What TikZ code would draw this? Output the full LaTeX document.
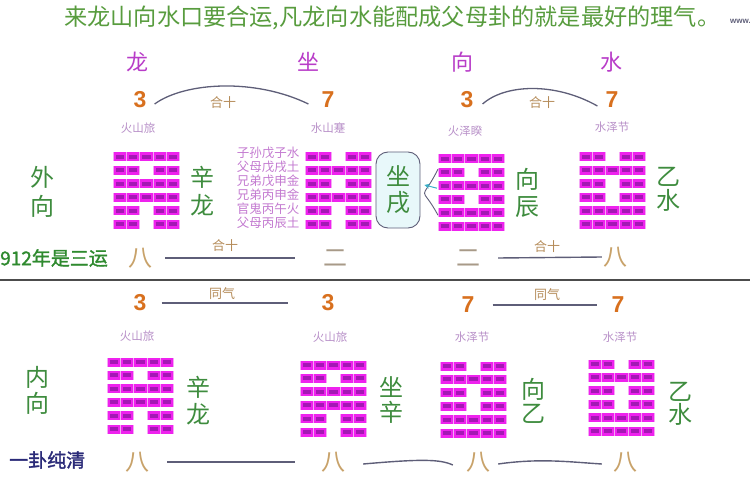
\documentclass[tikz,border=0pt]{standalone}
\usepackage{fontspec}
\setmainfont{Liberation Sans}
\newfontfamily\cjk{Noto Sans CJK SC}
\newfontfamily\cjkb[FakeBold=1.6]{Noto Sans CJK SC}
\usetikzlibrary{arrows.meta}
\definecolor{titlegreen}{HTML}{589C3E}
\definecolor{headmag}{HTML}{B83CC8}
\definecolor{numorange}{HTML}{D8701E}
\definecolor{tanlbl}{HTML}{B58C5A}
\definecolor{namepurple}{HTML}{B890C8}
\definecolor{biggreen}{HTML}{3E8C3E}
\definecolor{tanbig}{HTML}{C8A26A}
\definecolor{graytan}{HTML}{A89A88}
\definecolor{linegray}{HTML}{5E5E78}
\definecolor{hexmag}{HTML}{EE22EE}
\definecolor{hexpale}{HTML}{F4A8F4}
\definecolor{hexdark}{HTML}{A418B4}
\definecolor{yeargreen}{HTML}{2F8A2F}
\definecolor{navy}{HTML}{2A2A78}
\definecolor{bubblefill}{HTML}{E8F8FA}
\definecolor{arrowcyan}{HTML}{3AB0C8}
\newcommand\hexagram[4]{%
  \node[inner sep=0pt,minimum width=67pt,minimum height=76pt,anchor=north west] (#1) at (#2,#3-4) {};
  \foreach \t [count=\i from 0] in {#4} {
    \ifnum\t=1
      \fill[hexpale] ({#2},{#3+\i*13.4-4.5}) rectangle ++(67,9);
    \else
      \fill[hexpale] ({#2},{#3+\i*13.4-4.5}) rectangle ++(26.8,9);
      \fill[hexpale] ({#2+40.2},{#3+\i*13.4-4.5}) rectangle ++(26.8,9);
    \fi
    \foreach \s in {0,...,4} {
      \ifnum\t\s=02 \else
        \fill[hexmag] ({#2+\s*13.4+0.6},{#3+\i*13.4-4.5}) rectangle ++(12.2,9);
        \fill[hexdark] ({#2+\s*13.4+2.6},{#3+\i*13.4-2}) rectangle ++(8.2,4);
      \fi
    }
  }
}
\begin{document}
\begin{tikzpicture}[x=1pt,y=-1pt,
  txt/.style={inner sep=0pt,font=\cjk},
  titlestyle/.style={txt,text=titlegreen,font=\cjk\fontsize{23.2}{26}\selectfont},
  headstyle/.style={txt,text=headmag,font=\cjk\fontsize{22}{24}\selectfont},
  numstyle/.style={inner sep=0pt,text=numorange,font=\bfseries\fontsize{23}{24}\selectfont},
  pairlbl/.style={txt,text=tanlbl,font=\cjk\fontsize{13}{14}\selectfont},
  namestyle/.style={txt,text=namepurple,font=\cjk\fontsize{11.5}{12}\selectfont},
  bigv/.style={txt,text=biggreen,align=center,font=\cjk\fontsize{24}{#1}\selectfont},
  bigv/.default=27,
  yunstyle/.style={txt,text=tanbig,font=\cjk\fontsize{24}{26}\selectfont},
  erstyle/.style={txt,text=graytan,font=\cjk\fontsize{24}{26}\selectfont},
  link/.style={draw=linegray,line width=1.4pt},
  najia/.style={txt,text=namepurple!85!magenta,align=left,font=\cjk\fontsize{12.5}{14}\selectfont},
]
\useasboundingbox (0,0) rectangle (750,500);

% title
\node[titlestyle,anchor=west] (title) at (64,18) {来龙山向水口要合运,凡龙向水能配成父母卦的就是最好的理气。};
\node[inner sep=0pt,anchor=west,text=linegray,font=\bfseries\fontsize{8}{8}\selectfont] (www) at (730,21) {www.};

% headers
\node[headstyle] (hlong) at (137,62) {龙};
\node[headstyle] (hzuo) at (308,62) {坐};
\node[headstyle] (hxiang) at (462,62) {向};
\node[headstyle] (hshui) at (611,62) {水};

% ===== outer (top) section =====
\node[numstyle] (n3a) at (140,100) {3};
\node[pairlbl] (h10a) at (223,103) {合十};
\node[numstyle] (n7a) at (328,100) {7};
\node[numstyle] (n3b) at (467,100) {3};
\node[pairlbl] (h10b) at (542,103) {合十};
\node[numstyle] (n7b) at (612,100) {7};
\draw[draw=linegray,line width=1.3pt] ([xshift=8pt,yshift=-4pt]n3a.east) .. controls (185,82) and (255,78) .. ([xshift=-13pt,yshift=-4pt]n7a.west);
\draw[draw=linegray,line width=1.3pt] ([xshift=9pt,yshift=-4pt]n3b.east) .. controls (505,84) and (555,82) .. ([xshift=-8pt,yshift=-6pt]n7b.west);

\node[namestyle] (nm1) at (138,128) {火山旅};
\node[namestyle] (nm2) at (328,128) {水山蹇};
\node[namestyle] (nm3) at (465,131) {火泽睽};
\node[namestyle] (nm4) at (612,127) {水泽节};

\hexagram{h1}{113}{157}{1,0,1,1,0,0}
\hexagram{h2}{305}{157}{0,1,0,1,0,0}
\hexagram{h3}{438}{159}{1,0,1,0,1,1}
\hexagram{h4}{579}{157}{0,1,0,0,1,1}

\node[najia] (nj) at (268,188) {子孙戊子水\\父母戊戌土\\兄弟戊申金\\兄弟丙申金\\官鬼丙午火\\父母丙辰土};

\node[bigv=29] (wx) at (42,192) {外\\向};
\node[bigv=28] (xl1) at (202,191) {辛\\龙};
\node[bigv=26,draw=linegray,line width=0.9pt,fill=bubblefill,rounded corners=12pt,minimum width=44pt,minimum height=76pt] (zuoxu) at (398,190) {坐\\戌};
\node[bigv=27] (xc) at (527,193) {向\\辰};
\node[bigv=24] (ys1) at (668,189) {乙\\水};
\draw[draw=linegray,line width=0.9pt] ([yshift=-22pt]h3.west) .. controls (420,182) and (420,205) .. ([yshift=24pt]h3.west);
\draw[draw=arrowcyan,line width=1pt,-{Stealth[length=5pt,width=5pt]}] ([xshift=-1pt,yshift=5pt]h3.west) -- ([xshift=4pt,yshift=5pt]zuoxu.east);

\node[txt,anchor=west,text=yeargreen,font=\cjkb\fontsize{19}{20}\selectfont] (yr) at (0,258) {912年是三运};
\node[yunstyle] (b8a) at (140,258) {八};
\node[pairlbl] (h10c) at (225,246) {合十};
\node[erstyle] (b2a) at (335,258) {二};
\node[erstyle] (b2b) at (468,258) {二};
\node[pairlbl] (h10d) at (547,247) {合十};
\node[yunstyle] (b8b) at (615,257) {八};
\draw[link] ([xshift=13pt]b8a.east) -- ([xshift=-28pt]b2a.west);
\draw[link] ([xshift=18pt]b2b.east) -- ([xshift=-1pt]b8b.west);

% separator
\coordinate (sepL) at (0,280);
\coordinate (sepR) at (750,280);
\draw[draw=black!70,line width=2.2pt] (sepL) -- (sepR);

% ===== inner (bottom) section =====
\node[numstyle] (m3a) at (140,303) {3};
\node[pairlbl] (tq1) at (222,294) {同气};
\node[numstyle] (m3b) at (328,303) {3};
\node[numstyle] (m7a) at (468,305) {7};
\node[pairlbl] (tq2) at (547,295) {同气};
\node[numstyle] (m7b) at (618,305) {7};
\draw[link] ([xshift=15pt]m3a.east) -- ([xshift=-33pt]m3b.west);
\draw[link] ([xshift=18pt]m7a.east) -- ([xshift=-14pt]m7b.west);

\node[namestyle] (nm5) at (137,336) {火山旅};
\node[namestyle] (nm6) at (330,337) {火山旅};
\node[namestyle] (nm7) at (472,337) {水泽节};
\node[namestyle] (nm8) at (620,337) {水泽节};

\hexagram{h5}{107}{362}{1,0,1,1,0,0}
\hexagram{h6}{300}{365}{1,0,1,1,0,0}
\hexagram{h7}{440}{366}{0,1,0,0,1,1}
\hexagram{h8}{588}{364}{0,1,0,0,1,1}

\node[bigv=26] (nx) at (37,390) {内\\向};
\node[bigv=27] (xl2) at (198,401) {辛\\龙};
\node[bigv=25] (zx) at (391,400) {坐\\辛};
\node[bigv=24] (xy) at (533,401) {向\\乙};
\node[bigv=23] (ys2) at (680,404) {乙\\水};

\node[txt,anchor=west,text=navy,font=\cjkb\fontsize{19}{20}\selectfont] (yg) at (9,460) {一卦纯清};
\node[yunstyle] (bb1) at (137,462) {八};
\node[yunstyle] (bb2) at (333,462) {八};
\node[yunstyle] (bb3) at (478,462) {八};
\node[yunstyle] (bb4) at (625,462) {八};
\draw[link] ([xshift=18pt]bb1.east) -- ([xshift=-26pt]bb2.west);
\draw[link] ([xshift=18pt,yshift=-2pt]bb2.east) .. controls (420,459) and (440,459) .. ([xshift=-13pt,yshift=-3pt]bb3.west);
\draw[link] ([xshift=8pt,yshift=-2pt]bb3.east) .. controls (540,458) and (570,462) .. ([xshift=-11pt,yshift=-2pt]bb4.west);
\end{tikzpicture}
\end{document}
